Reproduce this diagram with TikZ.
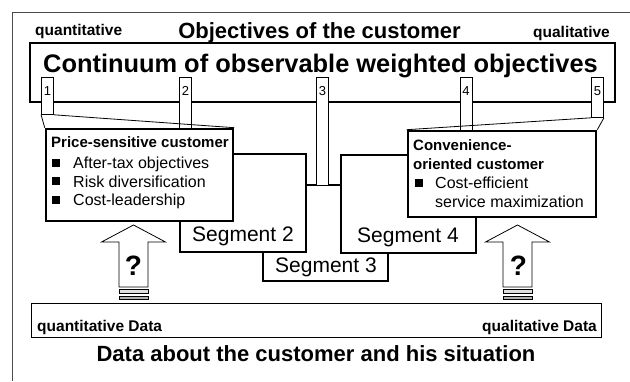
\documentclass[tikz,border=0pt]{standalone}
\usepackage{fontspec}
\setmainfont{Liberation Sans}
\begin{document}
\begin{tikzpicture}[x=1pt,y=-1pt,
  heavybox/.style={draw, line width=2.6pt, fill=white, inner sep=0pt},
  tabbox/.style={draw, line width=0.8pt, fill=white, inner sep=0pt, minimum width=12pt, anchor=north},
  tabnum/.style={font=\fontsize{13}{15}\selectfont, anchor=base, inner sep=0pt},
  bigtitle/.style={font=\fontsize{25.4}{30}\selectfont\bfseries, anchor=base, inner sep=0pt},
  midtitle/.style={font=\fontsize{22}{26}\selectfont\bfseries, anchor=base, inner sep=0pt},
  smallbold/.style={font=\fontsize{15.5}{18}\selectfont\bfseries, inner sep=0pt},
  boxtitle/.style={font=\fontsize{15}{18}\selectfont\bfseries, anchor=base west, inner sep=0pt},
  itemtxt/.style={font=\fontsize{16}{19}\selectfont, anchor=base west, inner sep=0pt},
  segtxt/.style={font=\fontsize{21}{25}\selectfont, anchor=base, inner sep=0pt},
  bullet/.style={fill=black, minimum size=8pt, inner sep=0pt},
  qmark/.style={font=\fontsize{28}{32}\selectfont\bfseries, anchor=base, inner sep=0pt},
  thinline/.style={line width=0.8pt},
  arrowbody/.style={draw, line width=0.8pt, fill=white, line join=miter},
  stripe/.style={draw, line width=0.6pt}
]
\useasboundingbox (0,0) rectangle (630,381);

% outer frame
\draw[gray!60!black, line width=0.9pt] (12.5,381) -- (12.5,12) -- (630,12);

% top labels
\node[smallbold, anchor=base west] (quanttop) at (35,35) {quantitative};
\node[midtitle] (objtitle) at (319.5,38) {Objectives of the customer};
\node[smallbold, anchor=base east] (qualtop) at (610,37) {qualitative};

% segments (behind)
\node[heavybox, minimum width=125pt, minimum height=96pt] (seg3) at (325.5,233) {};
\node[heavybox, minimum width=126pt, minimum height=98pt] (seg2) at (243,203) {};
\node[heavybox, minimum width=135pt, minimum height=98pt] (seg4) at (408.5,204) {};
\node[segtxt] (seg2t) at (243,241) {Segment 2};
\node[segtxt] (seg4t) at (408,242) {Segment 4};
\node[segtxt] (seg3t) at (326,272) {Segment 3};

% main continuum box
\node[heavybox, line width=2pt, minimum width=585pt, minimum height=59pt] (main) at (322.5,72.5) {};
\node[bigtitle] (maintxt) at (320.5,72) {Continuum of observable weighted objectives};

% tabs
\node[tabbox, minimum height=37pt] (t1) at (47.5,77) {};
\node[tabbox, minimum height=52pt] (t2) at (185.5,77) {};
\node[tabbox, minimum height=108pt] (t3) at (322.5,77) {};
\node[tabbox, minimum height=54pt] (t4) at (466,77) {};
\node[tabbox, minimum height=40pt] (t5) at (597.5,77) {};
\node[tabnum] (n1) at (47.5,95) {1};
\node[tabnum] (n2) at (185.5,95) {2};
\node[tabnum] (n3) at (322.5,95) {3};
\node[tabnum] (n4) at (466,95) {4};
\node[tabnum] (n5) at (597.5,95) {5};

% customer boxes
\node[heavybox, minimum width=187pt, minimum height=92pt] (price) at (139.5,175) {};
\node[boxtitle] (pt) at (51,147) {Price-sensitive customer};
\node[bullet] (pb1) at (56,162.5) {};
\node[bullet] (pb2) at (56,181) {};
\node[bullet] (pb3) at (56,199.5) {};
\node[itemtxt] (pi1) at (73,168) {After-tax objectives};
\node[itemtxt] (pi2) at (73,187) {Risk diversification};
\node[itemtxt] (pi3) at (73,205.5) {Cost-leadership};

\node[heavybox, minimum width=188pt, minimum height=86pt] (conv) at (502,174) {};
\node[boxtitle] (ct1) at (413,150) {Convenience-};
\node[boxtitle] (ct2) at (413,169) {oriented customer};
\node[bullet] (cb1) at (418.5,183) {};
\node[itemtxt] (ci1) at (435,188.5) {Cost-efficient};
\node[itemtxt] (ci2) at (435,207.5) {service maximization};

% fans
\draw[thinline] (t1.south west) -- (price.north west);
\draw[thinline] (t1.south east) -- (price.north east);
\draw[thinline] (t5.south east) -- (conv.north east);
\draw[thinline] (t5.south west) -- (conv.north west);

% data box
\node[draw, line width=0.9pt, minimum width=570pt, minimum height=34pt, inner sep=0pt] (data) at (316,320) {};
\node[smallbold, anchor=base west] (dq) at (37,331) {quantitative Data};
\node[smallbold, anchor=base east] (dl) at (597,331) {qualitative Data};
\node[midtitle] (dtitle) at (316,361) {Data about the customer and his situation};

% block arrows
\coordinate (aL) at (133.5,287);
\coordinate (aR) at (517.5,287);
\foreach \c in {aL,aR}{
  \begin{scope}[shift={(\c)}]
    \draw[arrowbody] (-14.5,0) -- (-14.5,-45) -- (-32,-45) -- (0,-62) -- (32,-45) -- (14.5,-45) -- (14.5,0) -- cycle;
    \draw[stripe, fill=gray!25] (-14.5,2.5) rectangle (14.5,6.5);
    \draw[stripe, fill=gray!60] (-14.5,9) rectangle (14.5,12.5);
  \end{scope}
}
\node[qmark] (qL) at (133.5,275) {?};
\node[qmark] (qR) at (518.5,275) {?};
\end{tikzpicture}
\end{document}
